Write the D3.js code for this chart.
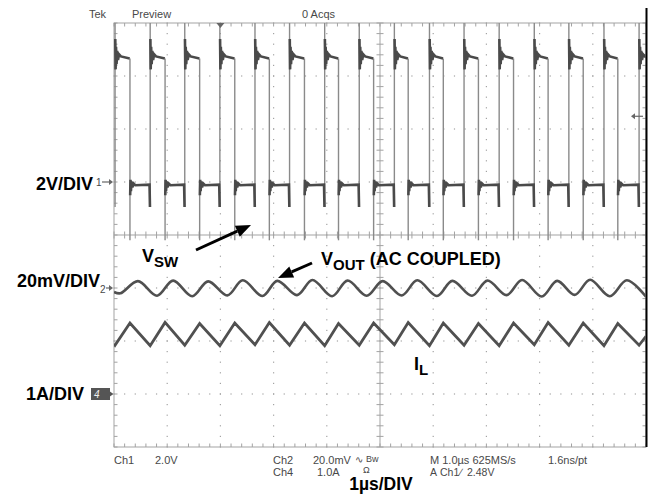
<!DOCTYPE html>
<html>
<head>
<meta charset="utf-8">
<script src="https://cdn.jsdelivr.net/npm/d3@7"></script>
<style>
  body { margin: 0; background: #fff; }
  svg { display: block; }
  .scope { font-family: "Liberation Sans", Arial, sans-serif; font-size: 11px; fill: #484848; }
  .lbl { font-family: "Liberation Sans", Arial, sans-serif; font-weight: bold; font-size: 18px; fill: #000; }
  .sub { font-size: 15px; }
</style>
</head>
<body>
<svg id="chart" width="652" height="502"></svg>
<script>
// switching node edges (us)
const swRise = [0.02, 0.68, 1.33, 1.99, 2.65, 3.30, 3.96, 4.61, 5.27, 5.93, 6.58, 7.24, 7.90, 8.55, 9.21, 9.87];
const swFall = [0.30, 0.96, 1.61, 2.27, 2.92, 3.58, 4.22, 4.88, 5.53, 6.19, 6.85, 7.51, 8.16, 8.82, 9.47];
// ringing right after the edges: [us after edge, volts]
const swHighRing = [[0.004, 5.4], [0.010, 4.25], [0.018, 5.1], [0.028, 4.45], [0.040, 4.95], [0.055, 4.6], [0.075, 4.82], [0.11, 4.74]];
const swLowRing = [[0.004, -0.5], [0.010, 0.08], [0.018, -0.35], [0.030, 0.02], [0.045, -0.2], [0.07, -0.06], [0.10, -0.12]];
const swHighEnd = 4.66;   // V, plateau before falling edge
const swLowLevel = -0.1;  // V
const swDip = -0.94;      // V, dip just before rising edge
const swFallMin = -2.2;   // V, bottom of falling edge line
const swTop = 6.5;        // V, rising edge goes off screen

// output ripple, ch2 (mV)
const voutT = [0.00, 0.12, 0.45, 0.81, 1.11, 1.47, 1.77, 2.13, 2.42, 2.79, 3.07, 3.44, 3.73, 4.10, 4.39, 4.75,
  5.05, 5.41, 5.70, 6.07, 6.36, 6.73, 7.02, 7.38, 7.67, 8.04, 8.33, 8.66, 8.95, 9.32, 9.64, 10.00];
const voutV = [-1.5, -2.0, 2.6, -2.9, 2.8, -3.1, 2.5, -2.8, 2.9, -3.0, 2.7, -2.7, 3.0, -3.1, 2.8, -2.9,
  2.6, -2.8, 2.9, -3.0, 2.7, -2.9, 2.8, -2.7, 3.0, -3.2, 2.7, -2.6, 3.1, -3.1, 2.9, -3.3];

// inductor current, ch4 (A)
const ilT = [0.00, 0.02, 0.30, 0.68, 0.96, 1.33, 1.61, 1.99, 2.27, 2.65, 2.92, 3.30, 3.58, 3.96, 4.22, 4.61, 4.88,
  5.27, 5.53, 5.93, 6.19, 6.58, 6.85, 7.24, 7.51, 7.90, 8.16, 8.55, 8.82, 9.21, 9.47, 9.87, 10.00];
const ilA = [0.95, 0.92, 1.34, 0.91, 1.35, 0.92, 1.33, 0.91, 1.34, 0.93, 1.35, 0.92, 1.34, 0.91, 1.33, 0.92, 1.34,
  0.93, 1.35, 0.91, 1.34, 0.92, 1.33, 0.91, 1.34, 0.93, 1.35, 0.92, 1.34, 0.91, 1.33, 0.92, 1.09];

// channel settings: volts (or A) per div and marker position in div
const ch1 = { perDiv: 2, pos: 1 };
const ch2 = { perDiv: 20, pos: -1 };
const ch4 = { perDiv: 1, pos: -3 };
const trigLevel = 2.48;
const trigTime = 2.0;

const svg = d3.select("#chart");
const x = d3.scaleLinear().domain([0, 10]).range([114, 646]);
const y = d3.scaleLinear().domain([-4, 4]).range([447, 23]);
const chY = (ch, v) => y(ch.pos + v / ch.perDiv);

const gridCol = "#a3a3a3";

// ---- graticule ----
const grid = svg.append("g");
const minorX = d3.range(0, 50.001, 1).map(k => k * 0.2);
const minorY = d3.range(0, 40.001, 1).map(k => -4 + k * 0.2);

// dotted division lines
for (let d = 1; d < 10; d++) {
  if (d === 5) continue;
  grid.selectAll(null).data(minorY).enter().append("rect")
    .attr("x", x(d) - 0.6).attr("y", v => y(v) - 0.6)
    .attr("width", 1.2).attr("height", 1.2).attr("fill", gridCol);
}
for (let d = -3; d <= 3; d++) {
  if (d === 0) continue;
  grid.selectAll(null).data(minorX).enter().append("rect")
    .attr("x", t => x(t) - 0.6).attr("y", y(d) - 0.6)
    .attr("width", 1.2).attr("height", 1.2).attr("fill", gridCol);
}

// border
grid.append("rect")
  .attr("x", x(0)).attr("y", y(4))
  .attr("width", x(10) - x(0)).attr("height", y(-4) - y(4))
  .attr("fill", "none").attr("stroke", gridCol).attr("stroke-width", 1);

// center cross
grid.append("line").attr("x1", x(5)).attr("x2", x(5)).attr("y1", y(4)).attr("y2", y(-4))
  .attr("stroke", gridCol);
grid.append("line").attr("x1", x(0)).attr("x2", x(10)).attr("y1", y(0)).attr("y2", y(0))
  .attr("stroke", gridCol);

// ticks
const tk = 3.5;
grid.selectAll(null).data(minorX).enter().append("path")
  .attr("d", t => `M${x(t)},${y(4)}v${tk}M${x(t)},${y(-4)}v${-tk}M${x(t)},${y(0) - tk}v${2 * tk}`)
  .attr("stroke", gridCol).attr("fill", "none");
grid.selectAll(null).data(minorY).enter().append("path")
  .attr("d", v => `M${x(0)},${y(v)}h${tk}M${x(10)},${y(v)}h${-tk}M${x(5) - tk},${y(v)}h${2 * tk}`)
  .attr("stroke", gridCol).attr("fill", "none");

// right black frame edge
svg.append("line").attr("x1", 646.5).attr("x2", 646.5).attr("y1", 8).attr("y2", y(-4))
  .attr("stroke", "#000").attr("stroke-width", 2);

// ---- traces ----
svg.append("clipPath").attr("id", "scr").append("rect")
  .attr("x", x(0)).attr("y", y(4)).attr("width", x(10) - x(0)).attr("height", y(-4) - y(4));
const traces = svg.append("g").attr("clip-path", "url(#scr)");
const line = d3.line().x(d => x(d[0])).y(d => d[1]);

// ch1 edges (thin, lighter)
traces.selectAll(null).data(swRise).enter().append("line")
  .attr("x1", t => x(t)).attr("x2", t => x(t))
  .attr("y1", chY(ch1, swDip)).attr("y2", chY(ch1, swTop))
  .attr("stroke", "#8a8a8a").attr("stroke-width", 1.4);
traces.selectAll(null).data(swFall).enter().append("line")
  .attr("x1", t => x(t)).attr("x2", t => x(t))
  .attr("y1", chY(ch1, swHighEnd)).attr("y2", chY(ch1, swFallMin))
  .attr("stroke", "#8a8a8a").attr("stroke-width", 1.4);

// ch1 plateaus
swRise.forEach((r, i) => {
  const f = i < swFall.length ? swFall[i] : 10.05;
  const hi = swHighRing.map(p => [r + p[0], chY(ch1, p[1])]);
  hi.push([f - 0.005, chY(ch1, swHighEnd)]);
  traces.append("path").attr("d", line(hi))
    .attr("fill", "none").attr("stroke", "#4a4a4a").attr("stroke-width", 2.6);
  if (i < swFall.length) {
    const nr = swRise[i + 1];
    const lo = swLowRing.map(p => [f + p[0], chY(ch1, p[1])]);
    lo.push([nr - 0.012, chY(ch1, swLowLevel)]);
    lo.push([nr - 0.004, chY(ch1, swDip)]);
    traces.append("path").attr("d", line(lo))
      .attr("fill", "none").attr("stroke", "#4a4a4a").attr("stroke-width", 2.6);
  }
});

// ch2 ripple
traces.append("path")
  .attr("d", d3.line().x(d => x(d[0])).y(d => chY(ch2, d[1])).curve(d3.curveCatmullRom)(voutT.map((t, i) => [t, voutV[i]])))
  .attr("fill", "none").attr("stroke", "#505050").attr("stroke-width", 2.6);

// ch4 inductor current
traces.append("path")
  .attr("d", d3.line().x(d => x(d[0])).y(d => chY(ch4, d[1]))(ilT.map((t, i) => [t, ilA[i]])))
  .attr("fill", "none").attr("stroke", "#505050").attr("stroke-width", 2.8);

// ---- scope markers ----
const mk = svg.append("g").attr("fill", "#666").attr("stroke", "#666");
function rightArrow(yy, x0, col) {
  mk.append("line").attr("x1", x0).attr("x2", x(0) - 3).attr("y1", yy).attr("y2", yy)
    .attr("stroke", col).attr("stroke-width", 1.2);
  mk.append("path").attr("d", `M${x(0) - 1},${yy}l-4,-3v6z`).attr("fill", col).attr("stroke", "none");
}
svg.append("text").attr("class", "scope").attr("x", 96).attr("y", chY(ch1, 0) + 4).style("font-size", "10px").text("1");
rightArrow(chY(ch1, 0), 102, "#666");
svg.append("text").attr("class", "scope").attr("x", 100).attr("y", chY(ch2, 0) + 5).style("font-size", "10px").text("2");
rightArrow(chY(ch2, 0), 106, "#666");
svg.append("rect").attr("x", 91).attr("y", chY(ch4, 0) - 6).attr("width", 19).attr("height", 12).attr("fill", "#555");
svg.append("text").attr("class", "scope").attr("x", 94).attr("y", chY(ch4, 0) + 4)
  .style("font-size", "10px").style("font-style", "italic").style("fill", "#eee").text("4");
mk.append("line").attr("x1", 102).attr("x2", 111).attr("y1", chY(ch4, 0)).attr("y2", chY(ch4, 0))
  .attr("stroke", "#eee").attr("stroke-width", 1.2);
mk.append("path").attr("d", `M${x(0) - 0.5},${chY(ch4, 0)}l-5,-3.5v7z`).attr("fill", "#555").attr("stroke", "none");

// trigger level (right) and trigger time (top)
const ty = chY(ch1, trigLevel);
mk.append("line").attr("x1", 633).attr("x2", 643).attr("y1", ty).attr("y2", ty).attr("stroke-width", 1.2);
mk.append("path").attr("d", `M631,${ty}l4,-3v6z`).attr("stroke", "none");
mk.append("path").attr("d", `M${x(trigTime) - 4},${y(4)}h8l-4,5z`).attr("stroke", "none");

// ---- scope text ----
const st = (tx, ty2, s, size) => svg.append("text").attr("class", "scope").attr("x", tx).attr("y", ty2)
  .style("font-size", size ? size + "px" : null).text(s);
st(89, 18, "Tek");
st(132, 18, "Preview");
st(302, 18, "0 Acqs");
st(114, 464, "Ch1");
st(155, 464, "2.0V");
st(273, 464, "Ch2");
st(313, 464, "20.0mV");
st(355, 463, "\u223F", 10);
st(366, 462, "Bw", 9);
st(430, 464, "M 1.0\u00B5s 625MS/s");
st(548, 464, "1.6ns/pt");
st(273, 476, "Ch4");
st(317, 476, "1.0A");
st(363, 473, "\u03A9", 9);
st(430, 476, "A", 10.5);
st(440, 476, "Ch1", 10.5);
st(460, 476, "\u2215", 10.5);
st(467, 476, "2.48V", 10.5);

// ---- annotations ----
const lb = (tx, ty2, s, anchor) => svg.append("text").attr("class", "lbl").attr("x", tx).attr("y", ty2)
  .attr("text-anchor", anchor || "start").text(s);
lb(93, 190, "2V/DIV", "end");
lb(100, 287, "20mV/DIV", "end");
lb(84, 400, "1A/DIV", "end");
lb(381, 490, "1\u00B5s/DIV", "middle").style("font-size", "17.5px");

const vsw = svg.append("text").attr("class", "lbl").attr("x", 142).attr("y", 262);
vsw.append("tspan").text("V");
vsw.append("tspan").attr("class", "sub").attr("dy", 5).text("SW");
const vo = svg.append("text").attr("class", "lbl").attr("x", 321).attr("y", 265);
vo.append("tspan").text("V");
vo.append("tspan").attr("class", "sub").attr("dy", 5).text("OUT");
vo.append("tspan").attr("dy", -5).text(" (AC COUPLED)");
const il = svg.append("text").attr("class", "lbl").attr("x", 414).attr("y", 370);
il.append("tspan").text("I");
il.append("tspan").attr("class", "sub").attr("dy", 5).text("L");

function arrow(x1, y1, x2, y2) {
  const a = Math.atan2(y2 - y1, x2 - x1), L = 15, W = 6;
  const bx = x2 - L * Math.cos(a), by = y2 - L * Math.sin(a);
  svg.append("line").attr("x1", x1).attr("y1", y1).attr("x2", bx).attr("y2", by)
    .attr("stroke", "#000").attr("stroke-width", 3);
  svg.append("path").attr("fill", "#000")
    .attr("d", `M${x2},${y2}L${bx + W * Math.sin(a)},${by - W * Math.cos(a)}L${bx - W * Math.sin(a)},${by + W * Math.cos(a)}Z`);
}
arrow(196, 250, 251, 225);
arrow(312, 263, 278, 278);
</script>
</body>
</html>
